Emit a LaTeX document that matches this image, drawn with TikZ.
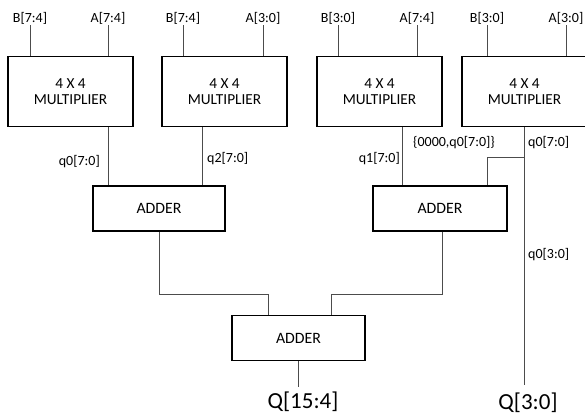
\documentclass[tikz,border=0pt]{standalone}
\usepackage{fontspec}
\setmainfont{Carlito}
\begin{document}
\begin{tikzpicture}[x=1pt,y=-1pt,
 box/.style={draw=black,line width=1.6pt,minimum width=125pt,minimum height=70pt,inner sep=0pt,align=center,font=\fontsize{15.3}{16.5}\selectfont},
 adder/.style={draw=black,line width=1.6pt,minimum height=45pt,inner sep=0pt,font=\fontsize{15.8}{18}\selectfont},
 pin/.style={font=\fontsize{14}{15}\selectfont,inner sep=1pt},
 wire/.style={draw=black!70,line width=1pt},
 outlbl/.style={font=\fontsize{23}{25}\selectfont,inner sep=0pt}]
\useasboundingbox (0,0) rectangle (585,415);
% multipliers
\node[box] (m1) at (70.5,91.5) {4 X 4\\MULTIPLIER};
\node[box] (m2) at (224.5,91.5) {4 X 4\\MULTIPLIER};
\node[box] (m3) at (379.5,91.5) {4 X 4\\MULTIPLIER};
\node[box] (m4) at (524.5,91.5) {4 X 4\\MULTIPLIER};
% adders
\node[adder,minimum width=132pt] (a1) at (159,208.5) {ADDER};
\node[adder,minimum width=134pt] (a2) at (440,208.5) {ADDER};
\node[adder,minimum width=133pt] (a3) at (298.5,338) {ADDER};
% input labels
\node[pin] (i1b) at (30,18) {B[7:4]};
\node[pin] (i1a) at (108,18) {A[7:4]};
\node[pin] (i2b) at (183,18) {B[7:4]};
\node[pin] (i2a) at (263,18) {A[3:0]};
\node[pin] (i3b) at (338,18) {B[3:0]};
\node[pin] (i3a) at (417,18) {A[7:4]};
\node[pin] (i4b) at (487,18) {B[3:0]};
\node[pin] (i4a) at (566,18) {A[3:0]};
\foreach \n/\m in {i1b/m1,i1a/m1,i2b/m2,i2a/m2,i3b/m3,i3a/m3,i4b/m4,i4a/m4}
  \draw[wire] (\n) -- (\n |- \m.north);
% output coordinates
\coordinate (o1) at (108,127);
\coordinate (o2) at (202,127);
\coordinate (o3) at (402,127);
\coordinate (o4) at (524,127);
\coordinate (br) at (524,157);
\coordinate (end4) at (524,385);
% wire labels
\node[pin,anchor=east] (lq0) at (101,162) {q0[7:0]};
\node[pin,anchor=west] (lq2) at (206,159) {q2[7:0]};
\node[pin,anchor=east] (lq1) at (401,159) {q1[7:0]};
\node[pin] (lcat) at (454,143) {\{0000,q0[7:0]\}};
\node[pin,anchor=west] (lq0b) at (527,143) {q0[7:0]};
\node[pin,anchor=west] (lq03) at (527,255) {q0[3:0]};
% wires
\draw[wire] (o1) -- (o1 |- a1.north);
\draw[wire] (o2) -- (o2 |- a1.north);
\draw[wire] (o3) -- (o3 |- a2.north);
\draw[wire] (o4) -- (end4);
\draw[wire] (br) -| ([xshift=47pt]a2.north);
\draw[wire] (a1.south) -- ++(0,63) -| ([xshift=-30pt]a3.north);
\draw[wire] ([xshift=2pt]a2.south) -- ++(0,63) -| ([xshift=33pt]a3.north);
% outputs
\node[outlbl] (q154) at (303,402) {Q[15:4]};
\node[outlbl] (q30) at (528,403) {Q[3:0]};
\draw[wire] (a3.south) -- ++(0,26);
\end{tikzpicture}
\end{document}
